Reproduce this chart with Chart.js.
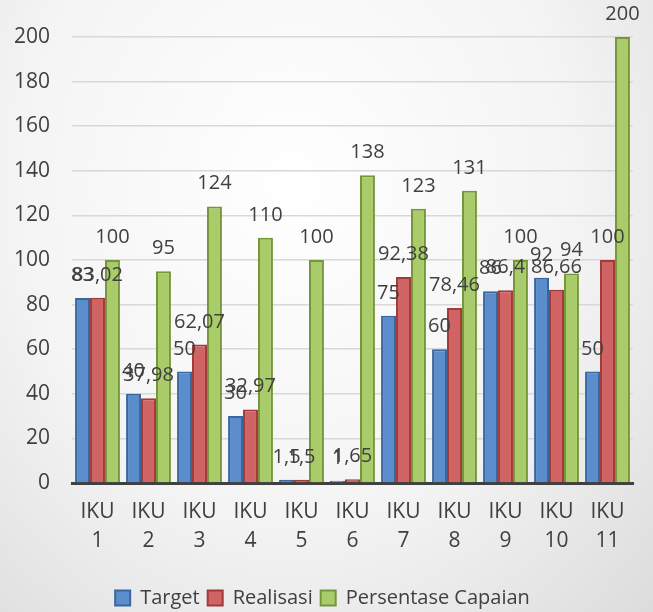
<!DOCTYPE html>
<html>
<head>
<meta charset="utf-8">
<script src="https://cdn.jsdelivr.net/npm/chart.js@4.4.0/dist/chart.umd.min.js"></script>
<style>
  html, body { margin: 0; padding: 0; }
  body {
    width: 653px; height: 612px; overflow: hidden;
    background: radial-gradient(ellipse at 45% 30%, #ffffff 0%, #f4f4f4 55%, #dcdcdc 100%);
  }
  #wrap { position: relative; width: 653px; height: 612px; }
</style>
</head>
<body>
<div id="wrap"><canvas id="ikuChart" width="653" height="612"></canvas></div>
<script>
// chart values
var categories = [["IKU", "1"], ["IKU", "2"], ["IKU", "3"], ["IKU", "4"], ["IKU", "5"], ["IKU", "6"],
                  ["IKU", "7"], ["IKU", "8"], ["IKU", "9"], ["IKU", "10"], ["IKU", "11"]];
var target = [83, 40, 50, 30, 1.5, 1, 75, 60, 86, 92, 50];
var realisasi = [83.02, 37.98, 62.07, 32.97, 1.5, 1.65, 92.38, 78.46, 86.4, 86.66, 100];
var persentase = [100, 95, 124, 110, 100, 138, 123, 131, 100, 94, 200];
var yTicks = [0, 20, 40, 60, 80, 100, 120, 140, 160, 180, 200];

var fontFam = "'Open Sans', 'Liberation Sans', sans-serif";
var textCol = '#404040';

// draws the value above each bar, decimal comma like the source
var valueLabels = {
  id: 'valueLabels',
  afterDatasetsDraw(chart) {
    var ctx = chart.ctx;
    ctx.save();
    ctx.font = '20px ' + fontFam;
    ctx.fillStyle = textCol;
    ctx.textAlign = 'center';
    ctx.textBaseline = 'alphabetic';
    chart.data.datasets.forEach((ds, di) => {
      chart.getDatasetMeta(di).data.forEach((bar, i) => {
        var txt = String(ds.data[i]).replace('.', ',');
        ctx.fillText(txt, bar.x, bar.y - 17);
      });
    });
    ctx.restore();
  }
};

var ctx = document.getElementById('ikuChart').getContext('2d');
var chart = new Chart(ctx, {
  type: 'bar',
  data: {
    labels: categories,
    datasets: [
      { label: 'Target', data: target, backgroundColor: '#5b8ccb', borderColor: '#3a669e', borderWidth: 2 },
      { label: 'Realisasi', data: realisasi, backgroundColor: '#d06464', borderColor: '#a23a3a', borderWidth: 2 },
      { label: 'Persentase Capaian', data: persentase, backgroundColor: '#a9cb6a', borderColor: '#76963a', borderWidth: 2 }
    ]
  },
  options: {
    responsive: false,
    animation: false,
    layout: { padding: { left: 12, right: 20, top: 37, bottom: -6 } },
    datasets: { bar: { categoryPercentage: 0.88, barPercentage: 1 } },
    scales: {
      x: {
        grid: { display: false },
        border: { color: '#404040', width: 3 },
        ticks: { color: textCol, font: { size: 21, family: fontFam, lineHeight: 1.38 }, padding: 7, maxRotation: 0 },
        afterFit: (axis) => { axis.height = 97; }
      },
      y: {
        min: 0, max: 200,
        afterBuildTicks: (axis) => { axis.ticks = yTicks.map(v => ({ value: v })); },
        grid: { color: '#d8d8d8', lineWidth: 1.5, drawTicks: false },
        border: { display: false },
        ticks: { color: textCol, font: { size: 21, family: fontFam }, padding: 22 },
        afterFit: (axis) => { axis.width = 60; }
      }
    },
    plugins: {
      legend: {
        position: 'bottom',
        labels: {
          color: textCol, font: { size: 20, family: fontFam },
          boxWidth: 15, boxHeight: 15, padding: 8
        }
      },
      tooltip: { enabled: false }
    }
  },
  plugins: [valueLabels]
});
</script>
</body>
</html>
